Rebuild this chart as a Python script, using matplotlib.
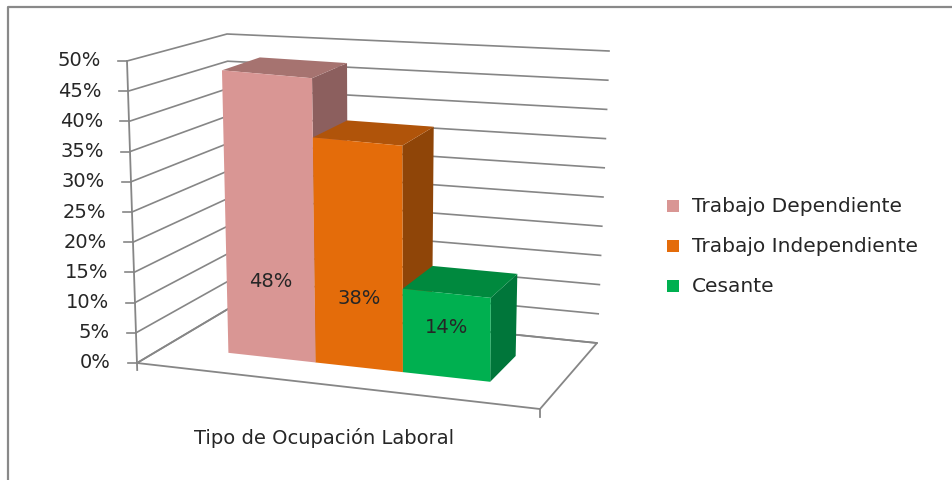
import matplotlib.pyplot as plt
from matplotlib.patches import Polygon, Rectangle

# chart data
categories = ["Trabajo Dependiente", "Trabajo Independiente", "Cesante"]
values = [0.48, 0.38, 0.14]
value_labels = ["48%", "38%", "14%"]
y_ticks = [0.0, 0.05, 0.10, 0.15, 0.20, 0.25, 0.30, 0.35, 0.40, 0.45, 0.50]
y_tick_labels = ["0%", "5%", "10%", "15%", "20%", "25%", "30%", "35%", "40%", "45%", "50%"]
axis_title = "Tipo de Ocupación Laboral"

front_colors = ["#D99694", "#E46C0A", "#00B050"]
top_colors = ["#A67370", "#B0540A", "#00893E"]
side_colors = ["#8C5F5E", "#8F4508", "#00763A"]
grid_color = "#868686"
text_color = "#262626"

# corners of the 3d box in pixel space: (u, depth, top)
corners = {
    (0, 0, 0): (137, 363), (0, 0, 1): (127, 61),
    (0, 1, 0): (233, 306), (0, 1, 1): (227, 34),
    (1, 0, 0): (540, 409), (1, 0, 1): (541, 104),
    (1, 1, 0): (597, 343), (1, 1, 1): (609, 51),
}
W_MAX = 0.5


def proj(u, v, w):
    # trilinear interpolation between the box corners
    t = w / W_MAX
    x = y = 0.0
    for iu in (0, 1):
        for iv in (0, 1):
            for it in (0, 1):
                wt = (u if iu else 1 - u) * (v if iv else 1 - v) * (t if it else 1 - t)
                cx, cy = corners[(iu, iv, it)]
                x += wt * cx
                y += wt * cy
    return x, y


fig = plt.figure(figsize=(9.53, 4.8), dpi=100)
ax = fig.add_axes([0, 0, 1, 1])
ax.set_xlim(0, 953)
ax.set_ylim(480, 0)
ax.axis("off")

# outer chart border
ax.plot([8, 8, 953], [480, 7, 7], color="#898989", lw=1.6, solid_capstyle="butt")

# gridlines on the side wall and back wall
for w in y_ticks:
    pts = [proj(0, 0, w), proj(0, 1, w), proj(1, 1, w)]
    ax.plot([p[0] for p in pts], [p[1] for p in pts], color=grid_color, lw=1.2, zorder=1)
    x0, y0 = proj(0, 0, w)
    ax.plot([x0 - 9, x0], [y0, y0], color=grid_color, lw=1.2, zorder=1)

# vertical axis
p0, p1 = proj(0, 0, 0), proj(0, 0, W_MAX)
ax.plot([p0[0] + 0.2, p1[0]], [p0[1] + 7, p1[1]], color=grid_color, lw=1.3, zorder=1)

# floor
floor = [proj(0, 0, 0), proj(1, 0, 0), proj(1, 1, 0), proj(0, 1, 0), proj(0, 0, 0)]
ax.plot([p[0] for p in floor], [p[1] for p in floor], color=grid_color, lw=1.3, zorder=1)
fx, fy = proj(1, 0, 0)
ax.plot([fx, fx], [fy, fy + 8], color=grid_color, lw=1.3, zorder=1)

# tick labels
for w, lab in zip(y_ticks, y_tick_labels):
    x0, y0 = proj(0, 0, w)
    ax.text(x0 - 26, y0, lab, ha="right", va="center", fontsize=14,
            color=text_color)

# bars
bar_start, bar_w = 0.16, 0.223
v0, v1 = 0.3, 0.7
for i, val in enumerate(values):
    u0 = bar_start + i * bar_w
    u1 = u0 + bar_w
    side = [proj(u1, v0, 0), proj(u1, v1, 0), proj(u1, v1, val), proj(u1, v0, val)]
    top = [proj(u0, v0, val), proj(u1, v0, val), proj(u1, v1, val), proj(u0, v1, val)]
    front = [proj(u0, v0, 0), proj(u1, v0, 0), proj(u1, v0, val), proj(u0, v0, val)]
    ax.add_patch(Polygon(side, closed=True, fc=side_colors[i], ec="none", zorder=3))
    ax.add_patch(Polygon(top, closed=True, fc=top_colors[i], ec="none", zorder=3))
    ax.add_patch(Polygon(front, closed=True, fc=front_colors[i], ec="none", zorder=3))
    lx, ly = proj((u0 + u1) / 2, v0, 0.063 + 0.138 * val)
    ax.text(lx, ly, value_labels[i], ha="center", va="center", fontsize=14,
            color=text_color, zorder=4)

# axis title
ax.text(324, 438, axis_title, ha="center", va="center", fontsize=14,
        color=text_color)

# legend
for i, name in enumerate(categories):
    ly = 206 + i * 40
    ax.add_patch(Rectangle((667, ly - 6), 12, 12, fc=front_colors[i], ec="none"))
    ax.text(692, ly, name, ha="left", va="center", fontsize=14.5, color=text_color)

fig.savefig("out.png", dpi=100)
